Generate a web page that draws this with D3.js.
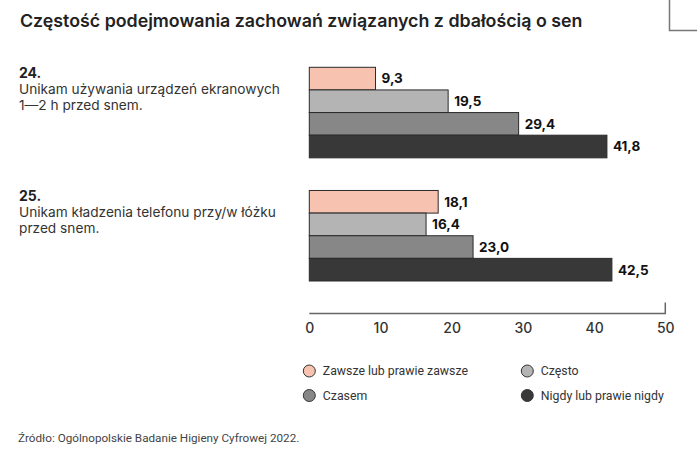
<!DOCTYPE html>
<html>
<head>
<meta charset="utf-8">
<script src="https://cdn.jsdelivr.net/npm/d3@7"></script>
<style>
  body { margin: 0; background: #fff; }
  svg text { font-family: Inter, "Open Sans", sans-serif; }
</style>
</head>
<body>
<svg id="chart" width="697" height="468"></svg>
<script>
// data
var questions = ["24", "25"];
var questionLines = [
  ["Unikam używania urządzeń ekranowych", "1—2 h przed snem."],
  ["Unikam kładzenia telefonu przy/w łóżku", "przed snem."]
];
var seriesNames = ["Zawsze lub prawie zawsze", "Często", "Czasem", "Nigdy lub prawie nigdy"];
var seriesColors = ["#f7c3b0", "#b4b4b4", "#878787", "#383838"];
var values24 = [9.3, 19.5, 29.4, 41.8];
var values25 = [18.1, 16.4, 23.0, 42.5];
var xTicks = [0, 10, 20, 30, 40, 50];

var allValues = [values24, values25];

var svg = d3.select("#chart");

// title
svg.append("text")
  .attr("x", 20).attr("y", 27)
  .attr("font-size", 17.8).attr("font-weight", 600).attr("fill", "#222")
  .text("Częstość podejmowania zachowań związanych z dbałością o sen");

// corner box top right
svg.append("path")
  .attr("d", "M669.5,0 V30.5 H697")
  .attr("fill", "none").attr("stroke", "#777").attr("stroke-width", 1.5);

var x = d3.scaleLinear().domain([0, 50]).range([309.3, 665.3]);

var y0 = d3.scaleBand().domain(questions).range([67.3, 281]).paddingInner(0.265).paddingOuter(0);
var y1 = d3.scaleBand().domain(seriesNames).range([0, y0.bandwidth()]).padding(0);

var groups = svg.selectAll("g.q").data(questions).enter().append("g")
  .attr("class", "q")
  .attr("transform", function(d){ return "translate(0," + y0(d) + ")"; });

// left labels
groups.append("text")
  .attr("x", 19).attr("y", 11)
  .attr("font-size", 14).attr("font-weight", 700).attr("fill", "#222")
  .text(function(d){ return d + "."; });

groups.each(function(d, i){
  var g = d3.select(this);
  questionLines[i].forEach(function(line, j){
    g.append("text")
      .attr("x", 19).attr("y", 27 + j * 16)
      .attr("font-size", 13.7).attr("fill", "#333")
      .text(line);
  });
});

// bars
groups.each(function(d, i){
  var g = d3.select(this);
  var rows = seriesNames.map(function(s, k){ return {name: s, value: allValues[i][k], color: seriesColors[k]}; });
  g.selectAll("rect").data(rows).enter().append("rect")
    .attr("x", x(0))
    .attr("y", function(r){ return y1(r.name); })
    .attr("width", function(r){ return x(r.value) - x(0); })
    .attr("height", y1.bandwidth())
    .attr("fill", function(r){ return r.color; })
    .attr("stroke", "#2a2a2a").attr("stroke-width", 1);
  g.selectAll("text.val").data(rows).enter().append("text")
    .attr("class", "val")
    .attr("x", function(r){ return x(r.value) + 6; })
    .attr("y", function(r){ return y1(r.name) + y1.bandwidth() / 2; })
    .attr("dy", "0.36em")
    .attr("font-size", 13.5).attr("font-weight", 700).attr("fill", "#111")
    .text(function(r){ return d3.format(".1f")(r.value).replace(".", ","); });
});

// x axis
var axis = d3.axisBottom(x).tickValues(xTicks).tickSize(0).tickPadding(10);
var ax = svg.append("g").attr("transform", "translate(0,313.5)").call(axis);
ax.select(".domain").attr("stroke", "#666").attr("stroke-width", 1.5)
  .attr("d", "M" + x(0) + ",0H" + x(50) + "V-11");
ax.selectAll(".tick text")
  .attr("font-family", "Inter, 'Open Sans', sans-serif")
  .attr("font-size", 14).attr("font-weight", 500).attr("fill", "#333");

// legend
var legendX = [309.3, 527.3];
var legendY = [371, 395.5];
var legend = svg.selectAll("g.leg").data(seriesNames).enter().append("g")
  .attr("class", "leg")
  .attr("transform", function(d, i){ return "translate(" + legendX[i % 2] + "," + legendY[Math.floor(i / 2)] + ")"; });
legend.append("circle")
  .attr("r", 6)
  .attr("fill", function(d, i){ return seriesColors[i]; })
  .attr("stroke", "#333").attr("stroke-width", 1);
legend.append("text")
  .attr("x", 13.5).attr("dy", "0.35em")
  .attr("font-size", 12.3).attr("fill", "#333")
  .style("font-family", "Roboto, sans-serif")
  .text(function(d){ return d; });

// source
svg.append("text")
  .attr("x", 18).attr("y", 442)
  .attr("font-size", 11.7).attr("fill", "#444")
  .style("font-family", "Roboto, sans-serif")
  .text("Źródło: Ogólnopolskie Badanie Higieny Cyfrowej 2022.");
</script>
</body>
</html>
